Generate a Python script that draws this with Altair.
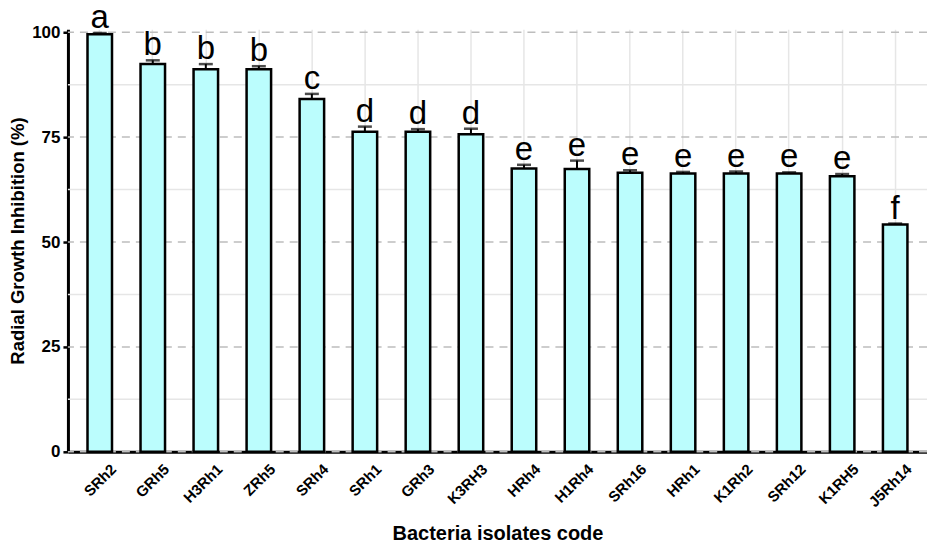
import altair as alt
import pandas as pd

isolates = ["SRh2", "GRh5", "H3Rh1", "ZRh5", "SRh4", "SRh1", "GRh3", "K3RH3",
            "HRh4", "H1Rh4", "SRh16", "HRh1", "K1Rh2", "SRh12", "K1RH5", "J5Rh14"]
inhibition = [99.5, 92.4, 91.2, 91.2, 84.1, 76.3, 76.3, 75.7,
              67.5, 67.4, 66.5, 66.3, 66.3, 66.3, 65.7, 54.2]
error = [0.3, 0.9, 1.2, 0.7, 1.2, 1.2, 0.6, 1.3,
         0.9, 2.0, 0.6, 0.4, 0.5, 0.3, 0.5, 0.2]
letters = ["a", "b", "b", "b", "c", "d", "d", "d",
           "e", "e", "e", "e", "e", "e", "e", "f"]
major_ticks = [0, 25, 50, 75, 100]
minor_ticks = [12.5, 37.5, 62.5, 87.5]

df = pd.DataFrame({
    "isolate": isolates,
    "value": inhibition,
    "upper": [v + e for v, e in zip(inhibition, error)],
    "letter": letters,
    "zero": [0] * len(isolates),
})

FONT = "Liberation Sans"
yscale = alt.Scale(domain=[0, 100.7], nice=False, zero=True)
xscale = alt.Scale(paddingInner=0.3, paddingOuter=0.25)

xaxis = alt.Axis(title="Bacteria isolates code", labels=False,
                 ticks=False, domainColor="black",
                 domainWidth=3, grid=True, gridColor="#e6e6e6",
                 gridWidth=1.5, titleFont=FONT, titleFontSize=20,
                 titleFontWeight="bold", titleColor="black",
                 titlePadding=72)
yaxis = alt.Axis(title="Radial Growth Inhibition (%)", values=major_ticks,
                 grid=False, domainColor="black", domainWidth=3,
                 tickColor="black", tickWidth=2.5, tickSize=5,
                 labelFont=FONT, labelFontWeight="bold",
                 labelFontSize=17, labelColor="black", labelPadding=3,
                 titleFont=FONT, titleFontSize=18.5,
                 titleFontWeight="bold", titleColor="black",
                 titlePadding=4)

xenc = alt.X("isolate:N", sort=isolates, scale=xscale, axis=xaxis)

minor = alt.Chart(pd.DataFrame({"t": minor_ticks})).mark_rule(
    color="#e6e6e6", strokeWidth=1.5).encode(y=alt.Y("t:Q", scale=yscale, axis=yaxis))
major = alt.Chart(pd.DataFrame({"t": major_ticks})).mark_rule(
    color="#bdbdbd", strokeWidth=1.5, strokeDash=[8, 6]).encode(
    y=alt.Y("t:Q", scale=yscale, axis=yaxis))

base = alt.Chart(df)
bars = base.mark_bar(fill="#BBFDFD", stroke="black", strokeWidth=2.5,
                     width={"band": 0.66}).encode(
    x=xenc, y=alt.Y("value:Q", scale=yscale, axis=yaxis))
err_line = base.mark_rule(color="black", strokeWidth=2).encode(
    x=xenc, y=alt.Y("value:Q", scale=yscale, axis=yaxis), y2="upper:Q")
err_cap = base.mark_tick(color="black", orient="horizontal", size=14,
                         thickness=2.5).encode(
    x=xenc, y=alt.Y("upper:Q", scale=yscale, axis=yaxis))
text = base.mark_text(font=FONT, fontSize=33, baseline="alphabetic",
                      dy=-5, color="black").encode(
    x=xenc, y=alt.Y("upper:Q", scale=yscale, axis=yaxis), text="letter:N")
xlabels = base.mark_text(font=FONT, fontSize=15, fontWeight="bold",
                         align="right", baseline="top",
                         xOffset=9, yOffset=10, color="black").encode(
    x=xenc, y=alt.Y("zero:Q", scale=yscale, axis=yaxis), text="isolate:N",
    angle=alt.value(315))

chart = alt.layer(minor, major, bars, err_line, err_cap, text, xlabels).properties(
    width=860, height=423,
    autosize=alt.AutoSizeParams(type="none"),
    padding={"left": 60, "top": 21, "right": 0, "bottom": 95},
    background="white",
).configure_view(stroke=None)

chart.save("out.html", embed_options={"renderer": "svg", "actions": False})
